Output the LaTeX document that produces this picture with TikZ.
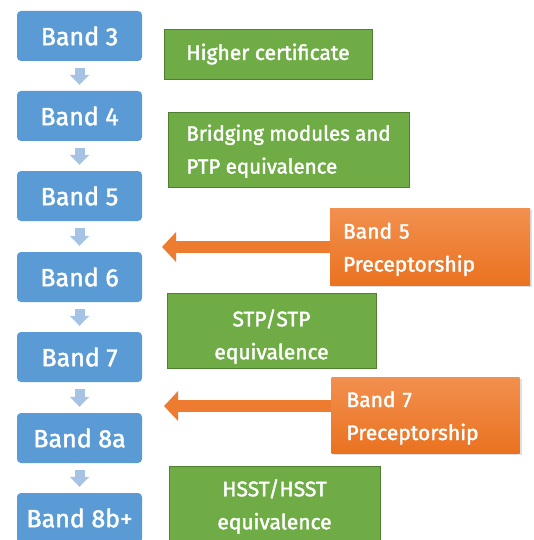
\documentclass[tikz,border=0pt]{standalone}
\usepackage{fontspec}
\setmainfont{Fira Sans}[FakeBold=1.8]
\usetikzlibrary{arrows.meta,shadows}
\definecolor{bandblue}{HTML}{5B9BD5}
\definecolor{lightarrow}{HTML}{A6C3E6}
\definecolor{grn}{HTML}{6FAC46}
\definecolor{grnborder}{HTML}{4F7F30}
\definecolor{orng}{HTML}{EE7C30}
\definecolor{orngtop}{HTML}{F2904F}
\definecolor{orngbot}{HTML}{EA7220}
\tikzset{
  bandbox/.style={fill=bandblue, rounded corners=4pt, minimum width=125pt, minimum height=50pt,
    text=white, font=\fontsize{25}{30}\selectfont, inner sep=0pt},
  greenbox/.style={fill=grn, draw=grnborder, line width=0.8pt, text=white,
    font=\fontsize{21}{33}\selectfont, inner sep=0pt},
  orangebox/.style={top color=orngtop, bottom color=orngbot, text=white,
    font=\fontsize{21}{33}\selectfont, inner sep=0pt,
    drop shadow={shadow xshift=2pt, shadow yshift=-2pt, opacity=0.25}},
  downarrow/.style={draw=lightarrow, line width=10pt, shorten <=7pt, shorten >=6pt,
    -{Triangle[width=19pt,length=10pt]}},
  leftarrow/.style={draw=orng, line width=12pt, -{Triangle[width=29pt,length=14pt]}}
}
\begin{document}
\begin{tikzpicture}[x=1pt,y=-1pt]
\useasboundingbox[fill=white] (0,0) rectangle (534,540);
% blue band boxes
\node[bandbox] (b3) at (79.5,36) {Band 3};
\node[bandbox] (b4) at (79.5,116) {Band 4};
\node[bandbox] (b5) at (79.5,196) {Band 5};
\node[bandbox] (b6) at (79.5,277) {Band 6};
\node[bandbox] (b7) at (79.5,357) {Band 7};
\node[bandbox] (b8a) at (79.5,438) {Band 8a};
\node[bandbox] (b8b) at (79.5,518) {Band 8b+};
% arrows between bands
\draw[downarrow] (b3.south) -- (b4.north);
\draw[downarrow] (b4.south) -- (b5.north);
\draw[downarrow] (b5.south) -- (b6.north);
\draw[downarrow] (b6.south) -- (b7.north);
\draw[downarrow] (b7.south) -- (b8a.north);
\draw[downarrow] (b8a.south) -- (b8b.north);
% green boxes
\node[greenbox, minimum width=208pt, minimum height=50pt] (g1) at (268,54) {Higher certificate};
\node[greenbox, minimum width=241pt, minimum height=75pt, align=left, font=\fontsize{20.5}{33}\selectfont] (g2) at (288.5,149.5) {\rule{0pt}{19.5pt}Bridging modules and\\PTP equivalence};
\node[greenbox, minimum width=209pt, minimum height=75pt, align=center] (g3) at (271.5,331) {\rule{0pt}{28pt}STP/STP\\equivalence};
\node[greenbox, minimum width=211pt, minimum height=80pt, align=center] (g4) at (274.5,506) {\rule{0pt}{18pt}HSST/HSST\\equivalence};
% orange boxes
\node[orangebox, minimum width=200pt, minimum height=77pt, align=left, text width=174pt, inner xsep=13pt] (o1) at (430,246.5) {\rule{0pt}{21.5pt}Band 5\\Preceptorship};
\node[orangebox, minimum width=187pt, minimum height=76pt, align=left, text width=158pt, inner xsep=15pt] (o2) at (425.5,415) {\rule{0pt}{21.5pt}Band 7\\Preceptorship};
% orange arrows
\coordinate (t1) at (162,247);
\coordinate (t2) at (164,406);
\draw[leftarrow] (o1.west |- t1) -- (t1);
\draw[leftarrow] (o2.west |- t2) -- (t2);
\end{tikzpicture}
\end{document}
